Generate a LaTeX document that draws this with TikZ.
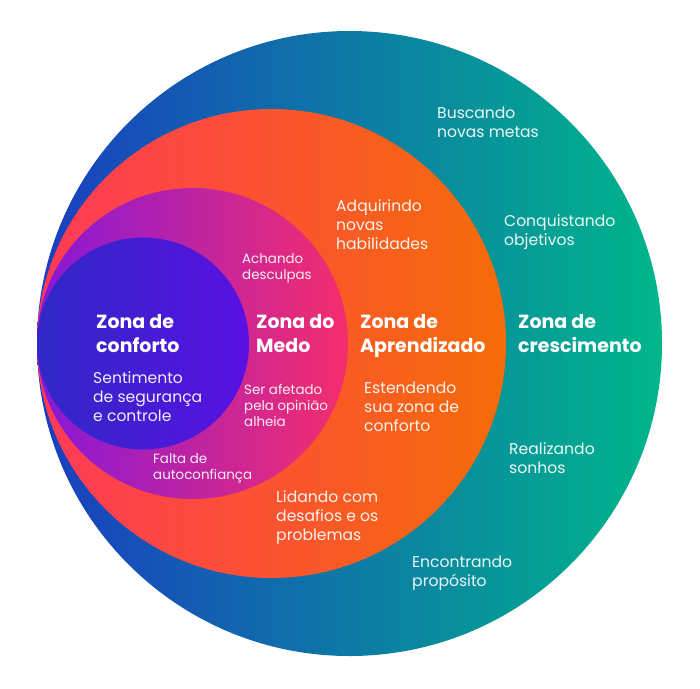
\documentclass[tikz,border=0pt]{standalone}
\usepackage{fontspec}
\setmainfont{Poppins}
\definecolor{cresL}{HTML}{1A3EC0}
\definecolor{cresR}{HTML}{00B68A}
\definecolor{aprL}{HTML}{FF3A58}
\definecolor{aprR}{HTML}{F56C08}
\definecolor{medoL}{HTML}{8618D8}
\definecolor{medoR}{HTML}{F52E6C}
\definecolor{confL}{HTML}{3028C6}
\definecolor{confR}{HTML}{5A10E2}
\begin{document}
\begin{tikzpicture}[x=1pt,y=-1pt]
    % base anchor sits on the last line
    \tikzstyle{zona}=[text=white, font=\fontsize{19}{24}\selectfont\bfseries, align=left, anchor=base west, inner sep=0pt]
    \tikzstyle{item}=[text=white, text opacity=0.92, font=\fontsize{15.6}{18.6}\selectfont, align=left, anchor=base west, inner sep=0pt]
    \tikzstyle{small}=[text=white, text opacity=0.92, font=\fontsize{13.4}{16}\selectfont, align=left, anchor=base west, inner sep=0pt]
    \useasboundingbox (0,0) rectangle (700,688);
    % circles
    \shade[left color=cresL, right color=cresR] (349.5,343.5) circle[radius=312.5pt];
    \shade[left color=aprL, right color=aprR] (271.5,343.5) circle[radius=234.5pt];
    \shade[left color=medoL, right color=medoR] (192.5,343.5) circle[radius=155.5pt];
    \shade[left color=confL, right color=confR] (143,343.5) circle[radius=106pt];
    % zona de conforto
    \node[zona] (conforto) at (96,352) {Zona de\\conforto};
    \node[item] (seguranca) at (93,421) {Sentimento\\de segurança\\e controle};
    % zona do medo
    \node[zona] (medo) at (256,352) {Zona do\\Medo};
    \node[small] (desculpas) at (242,279) {Achando\\desculpas};
    \node[small] (opiniao) at (244,426) {Ser afetado\\pela opinião\\alheia};
    \node[small] (autoconf) at (153,479) {Falta de\\autoconfiança};
    % zona de aprendizado
    \node[zona] (aprendizado) at (360,352) {Zona de\\Aprendizado};
    \node[item] (habilidades) at (336,249) {Adquirindo\\novas\\habilidades};
    \node[item] (estendendo) at (364,431) {Estendendo\\sua zona de\\conforto};
    \node[item] (desafios) at (276,540) {Lidando com\\desafios e os\\problemas};
    % zona de crescimento
    \node[zona] (crescimento) at (518,352) {Zona de\\crescimento};
    \node[item] (metas) at (437,137) {Buscando\\novas metas};
    \node[item] (objetivos) at (504,245) {Conquistando\\objetivos};
    \node[item] (sonhos) at (509,473) {Realizando\\sonhos};
    \node[item] (proposito) at (412,586) {Encontrando\\propósito};
\end{tikzpicture}
\end{document}
